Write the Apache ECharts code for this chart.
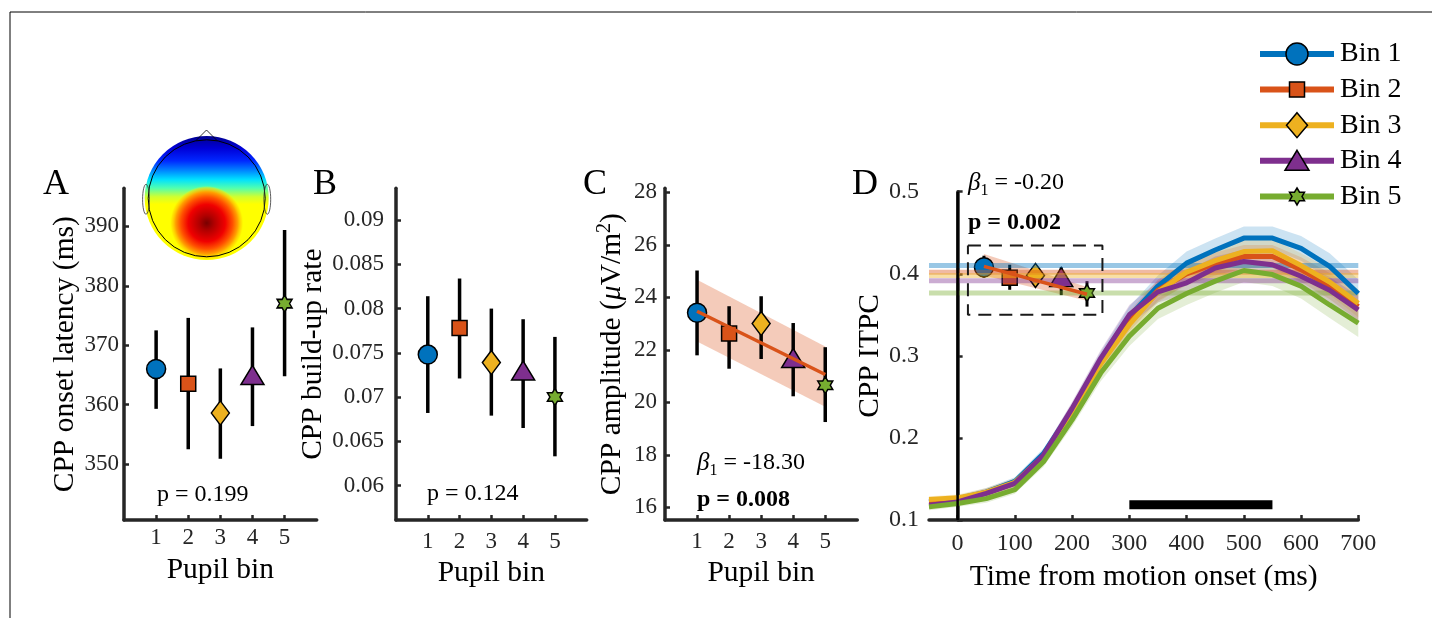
<!DOCTYPE html>
<html><head><meta charset="utf-8">
<script src="https://cdn.jsdelivr.net/npm/echarts@6/dist/echarts.min.js"></script>
<style>html,body{margin:0;padding:0;background:#fff}#c{width:1432px;height:618px}</style>
</head><body><div id="c"></div>
<script>
// ---------------- data ----------------
const bins = [1, 2, 3, 4, 5];
const binNames = ['Bin 1', 'Bin 2', 'Bin 3', 'Bin 4', 'Bin 5'];

// Panel A: CPP onset latency (ms)
const latencyMean = [366.0, 363.5, 358.6, 365.0, 377.0];
const latencyLo   = [359.3, 352.5, 350.9, 356.4, 364.8];
const latencyHi   = [372.5, 374.6, 366.1, 373.0, 389.4];
const latencyTicks = [350, 360, 370, 380, 390];

// Panel B: CPP build-up rate
const rateMean = [0.0748, 0.0778, 0.0739, 0.0730, 0.0700];
const rateLo   = [0.0682, 0.0721, 0.0679, 0.0665, 0.0633];
const rateHi   = [0.0814, 0.0834, 0.0800, 0.0788, 0.0768];
const rateTicks = [0.06, 0.065, 0.07, 0.075, 0.08, 0.085, 0.09];

// Panel C: CPP amplitude
const ampMean = [23.41, 22.62, 23.00, 21.69, 20.65];
const ampLo   = [21.79, 21.28, 21.65, 20.23, 19.25];
const ampHi   = [25.02, 23.66, 24.04, 23.02, 22.10];
const ampTicks = [16, 18, 20, 22, 24, 26, 28];
const ampFitX  = [1, 5];
const ampFitY  = [23.47, 21.06];
const ampFitLo = [22.32, 19.83];
const ampFitHi = [24.67, 22.13];

// Panel D: CPP ITPC time courses
const timeMs = [-50, 0, 50, 100, 150, 200, 250, 300, 350, 400, 450, 500, 550, 600, 650, 700];
const itpcBin1 = [0.122, 0.126, 0.134, 0.147, 0.181, 0.234, 0.295, 0.348, 0.385, 0.413, 0.429, 0.4435, 0.4435, 0.431, 0.409, 0.376];
const itpcBin2 = [0.123, 0.125, 0.133, 0.145, 0.178, 0.232, 0.292, 0.342, 0.380, 0.400, 0.412, 0.421, 0.421, 0.405, 0.385, 0.360];
const itpcBin3 = [0.125, 0.127, 0.134, 0.146, 0.178, 0.230, 0.290, 0.338, 0.378, 0.402, 0.416, 0.427, 0.428, 0.410, 0.390, 0.364];
const itpcBin4 = [0.118, 0.122, 0.1325, 0.1447, 0.179, 0.236, 0.297, 0.350, 0.378, 0.389, 0.407, 0.415, 0.411, 0.397, 0.380, 0.356];
const itpcBin5 = [0.116, 0.120, 0.126, 0.137, 0.171, 0.222, 0.279, 0.324, 0.358, 0.376, 0.391, 0.404, 0.399, 0.385, 0.362, 0.340];
const itpcSem  = [0.004, 0.004, 0.005, 0.005, 0.006, 0.008, 0.010, 0.012, 0.013, 0.014, 0.014, 0.014, 0.014, 0.015, 0.016, 0.017];
const itpcMeanLevel = [0.410, 0.402, 0.398, 0.3915, 0.3765];
const itpcTicksX = [0, 100, 200, 300, 400, 500, 600, 700];
const itpcTicksY = [0.1, 0.2, 0.3, 0.4, 0.5];
// inset inside D (same axes coordinates)
const insetX  = [46, 91, 136, 181, 226];
const insetY  = [0.408, 0.3953, 0.398, 0.396, 0.3765];
const insetLo = [0.395, 0.3805, 0.387, 0.374, 0.360];
const insetHi = [0.422, 0.411, 0.410, 0.408, 0.391];
const insetFitX  = [46, 226];
const insetFitY  = [0.409, 0.375];
const insetFitLo = [0.398, 0.367];
const insetFitHi = [0.424, 0.384];
const insetBoxX = [18, 253];
const insetBoxY = [0.35, 0.4345];
const sigWindow = [300, 550];
const sigLevel = 0.1187;

// ---------------- styles ----------------
const binColors = ['#0072BD', '#D95319', '#EDB120', '#7E2F8E', '#77AC30'];
const HEX = 'path://M50,0L64.4,25L93.3,25L78.9,50L93.3,75L64.4,75L50,100L35.6,75L6.7,75L21.1,50L6.7,25L35.6,25Z';
const SYMBOLS = ['circle', 'rect', 'diamond', 'triangle', HEX];
const SIZES = [19, 15, [18, 24], [23, 19], [15, 17]];
const FONT = 'Liberation Serif';
const AX = '#262626';
const TICKFS = 23;
const NAMEFS = 29.5;

function hexA(h, a) {
  const r = parseInt(h.slice(1, 3), 16), g = parseInt(h.slice(3, 5), 16), b = parseInt(h.slice(5, 7), 16);
  return 'rgba(' + r + ',' + g + ',' + b + ',' + a + ')';
}

function xAxisBins(gi, labelMargin, nameGap) {
  return {
    type: 'value', gridIndex: gi, min: 0, max: 6,
    axisLine: { lineStyle: { color: AX, width: 3.5 } },
    axisTick: { inside: true, length: 5, lineStyle: { color: AX, width: 2.5 }, customValues: bins },
    axisLabel: { customValues: bins, fontFamily: FONT, fontSize: TICKFS, color: AX, margin: labelMargin },
    splitLine: { show: false },
    name: 'Pupil bin', nameLocation: 'middle', nameGap: nameGap,
    nameTextStyle: { fontFamily: FONT, fontSize: NAMEFS, color: '#000' }
  };
}
function yAxisVal(gi, min, max, ticks, labelMargin, name, nameGap, fmt, rich) {
  return {
    type: 'value', gridIndex: gi, min: min, max: max,
    axisLine: { show: true, lineStyle: { color: AX, width: 3.5 } },
    axisTick: { show: true, inside: true, length: 5, lineStyle: { color: AX, width: 2.5 }, customValues: ticks },
    axisLabel: { customValues: ticks, fontFamily: FONT, fontSize: TICKFS, color: AX, margin: labelMargin, formatter: fmt },
    splitLine: { show: false },
    name: name, nameLocation: 'middle', nameGap: nameGap, nameRotate: 90,
    nameTextStyle: Object.assign({ fontFamily: FONT, fontSize: NAMEFS, color: '#000' }, rich ? { rich: rich, lineHeight: 35 } : {})
  };
}

function errSeries(gi, xs, lo, hi, w) {
  return {
    type: 'custom', xAxisIndex: gi, yAxisIndex: gi, silent: true,
    data: xs.map((x, i) => [x, lo[i], hi[i]]),
    encode: { x: 0, y: [1, 2] },
    renderItem: (p, api) => {
      const a = api.coord([api.value(0), api.value(1)]);
      const b = api.coord([api.value(0), api.value(2)]);
      return { type: 'line', shape: { x1: a[0], y1: a[1], x2: b[0], y2: b[1] }, style: { stroke: '#000', lineWidth: w } };
    }
  };
}
function markerSeries(gi, xs, ys) {
  return {
    type: 'scatter', xAxisIndex: gi, yAxisIndex: gi, silent: true,
    data: xs.map((x, i) => ({
      value: [x, ys[i]], symbol: SYMBOLS[i], symbolSize: SIZES[i],
      itemStyle: { color: binColors[i], borderColor: '#000', borderWidth: 1.5, opacity: 1 }
    }))
  };
}
function bandSeries(gi, xs, lo, hi, color) {
  return {
    type: 'custom', xAxisIndex: gi, yAxisIndex: gi, silent: true,
    data: xs.map((x, i) => [x, lo[i], hi[i]]),
    encode: { x: 0, y: [1, 2] },
    renderItem: (p, api) => {
      if (p.dataIndex !== 0) return null;
      const top = [], bot = [];
      for (let i = 0; i < xs.length; i++) {
        top.push(api.coord([xs[i], hi[i]]));
        bot.push(api.coord([xs[i], lo[i]]));
      }
      return { type: 'polygon', shape: { points: top.concat(bot.reverse()) }, style: { fill: color } };
    }
  };
}
function lineSeries(gi, xs, ys, color, width, opacity, type) {
  return {
    type: 'line', xAxisIndex: gi, yAxisIndex: gi, silent: true, symbol: 'none', showSymbol: false,
    data: xs.map((x, i) => [x, ys[i]]),
    lineStyle: { color: color, width: width, opacity: opacity, type: type || 'solid' }
  };
}

const itpcAll = [itpcBin1, itpcBin2, itpcBin3, itpcBin4, itpcBin5];

const series = [];
// A
series.push(errSeries(0, bins, latencyLo, latencyHi, 3.5));
series.push(markerSeries(0, bins, latencyMean));
// B
series.push(errSeries(1, bins, rateLo, rateHi, 3.5));
series.push(markerSeries(1, bins, rateMean));
// C
series.push(bandSeries(2, ampFitX, ampFitLo, ampFitHi, 'rgba(217,83,25,0.3)'));
series.push(lineSeries(2, ampFitX, ampFitY, '#D95319', 3.5, 1));
series.push(errSeries(2, bins, ampLo, ampHi, 3.5));
series.push(markerSeries(2, bins, ampMean));
// D
itpcMeanLevel.forEach((v, i) => series.push(lineSeries(3, [timeMs[0], timeMs[timeMs.length - 1]], [v, v], binColors[i], 5, 0.4)));
itpcAll.forEach((arr, i) => series.push(bandSeries(3, timeMs, arr.map((v, k) => v - itpcSem[k]), arr.map((v, k) => v + itpcSem[k]), hexA(binColors[i], 0.2))));
itpcAll.forEach((arr, i) => { const s = lineSeries(3, timeMs, arr, binColors[i], 5, 1); s.name = binNames[i]; series.push(s); });
series.push(lineSeries(3, [0, 0], [0.1, 0.5], '#000', 2.5, 1));
series.push(lineSeries(3, sigWindow, [sigLevel, sigLevel], '#000', 9, 1));
series.push(lineSeries(3, [insetBoxX[0], insetBoxX[1], insetBoxX[1], insetBoxX[0], insetBoxX[0]],
  [insetBoxY[1], insetBoxY[1], insetBoxY[0], insetBoxY[0], insetBoxY[1]], '#1a1a1a', 2, 1, [13, 8]));
series.push(bandSeries(3, insetFitX, insetFitLo, insetFitHi, 'rgba(217,83,25,0.3)'));
series.push(lineSeries(3, insetFitX, insetFitY, '#D95319', 3.5, 1));
series.push(errSeries(3, insetX, insetLo, insetHi, 3));
series.push(markerSeries(3, insetX, insetY));

// ---------------- graphics (texts, legend, topomap) ----------------
const graphics = [];
graphics.push({ type: 'line', shape: { x1: 10, y1: 12, x2: 1432, y2: 12 }, style: { stroke: '#000', lineWidth: 1 } });
graphics.push({ type: 'line', shape: { x1: 10, y1: 12, x2: 10, y2: 618 }, style: { stroke: '#000', lineWidth: 1 } });

function txt(x, y, text, size, extra) {
  return { type: 'text', x: x, y: y, z: 100,
    style: Object.assign({ text: text, fontFamily: FONT, fontSize: size, fill: '#000', align: 'left', verticalAlign: 'middle',
      textAlign: 'left', textVerticalAlign: 'middle' }, extra || {}) };
}
[['A', 43], ['B', 313], ['C', 583], ['D', 852]].forEach(([l, x]) => graphics.push(txt(x, 185, l, 36)));
graphics.push(txt(157, 495, 'p = 0.199', 24));
graphics.push(txt(427, 494, 'p = 0.124', 24));
const betaRich = {
  b: { fontFamily: FONT, fontStyle: 'italic', fontSize: 25, lineHeight: 32, verticalAlign: 'middle' },
  s: { fontFamily: FONT, fontSize: 16, lineHeight: 12, verticalAlign: 'bottom' },
  n: { fontFamily: FONT, fontSize: 24, lineHeight: 32, verticalAlign: 'middle' }
};
graphics.push(txt(697, 463, '{b|β}{s|1}{n| = -18.30}', 24, { rich: betaRich }));
graphics.push(txt(697, 500, 'p = 0.008', 24, { fontWeight: 'bold' }));
graphics.push(txt(968, 183, '{b|β}{s|1}{n| = -0.20}', 24, { rich: betaRich }));
graphics.push(txt(968, 223, 'p = 0.002', 24, { fontWeight: 'bold' }));

// legend
function hexPoints(cx, cy, w, h) {
  const base = [[50,0],[64.4,25],[93.3,25],[78.9,50],[93.3,75],[64.4,75],[50,100],[35.6,75],[6.7,75],[21.1,50],[6.7,25],[35.6,25]];
  return base.map(p => [cx + (p[0] - 50) / 86.6 * w, cy + (p[1] - 50) / 100 * h]);
}
binNames.forEach((n, i) => {
  const cy = 54 + i * 35.6, cx = 1297;
  graphics.push({ type: 'line', z: 100, shape: { x1: 1260, y1: cy, x2: 1334, y2: cy }, style: { stroke: binColors[i], lineWidth: 6 } });
  const ms = { fill: binColors[i], stroke: '#000', lineWidth: 1.5 };
  let m;
  if (i === 0) m = { type: 'circle', shape: { cx: cx, cy: cy, r: 11 } };
  else if (i === 1) m = { type: 'rect', shape: { x: cx - 7.5, y: cy - 7.5, width: 15, height: 15 } };
  else if (i === 2) m = { type: 'polygon', shape: { points: [[cx, cy - 12.5], [cx + 10.5, cy], [cx, cy + 12.5], [cx - 10.5, cy]] } };
  else if (i === 3) m = { type: 'polygon', shape: { points: [[cx, cy - 10.5], [cx + 12, cy + 9.5], [cx - 12, cy + 9.5]] } };
  else m = { type: 'polygon', shape: { points: hexPoints(cx, cy, 15, 17) } };
  m.z = 101; m.style = ms;
  graphics.push(m);
  graphics.push(txt(1340, cy, n, 28));
});

// scalp topography (decorative)
graphics.push({ type: 'circle', z: 50, shape: { cx: 206.7, cy: 198, r: 62 },
  style: { fill: { type: 'linear', x: 0, y: 0, x2: 0, y2: 1, colorStops: [
    { offset: 0, color: '#000090' }, { offset: 0.1, color: '#0000d8' }, { offset: 0.2, color: '#0028ff' },
    { offset: 0.28, color: '#0088ff' }, { offset: 0.35, color: '#00e0ff' }, { offset: 0.42, color: '#50ffb0' },
    { offset: 0.49, color: '#d0ff30' }, { offset: 0.55, color: '#ffff00' }, { offset: 1, color: '#ffff00' }] } } });
graphics.push({ type: 'ellipse', z: 51, shape: { cx: 206.7, cy: 223, rx: 60, ry: 37 },
  style: { fill: { type: 'radial', x: 0.5, y: 0.5, r: 0.5, colorStops: [
    { offset: 0, color: '#780000' }, { offset: 0.2, color: '#b00000' }, { offset: 0.5, color: '#f00000' },
    { offset: 0.7, color: '#ff5000' }, { offset: 0.84, color: '#ffa000' }, { offset: 0.95, color: 'rgba(255,220,0,0.6)' },
    { offset: 1, color: 'rgba(255,255,0,0)' }] } } });
graphics.push({ type: 'circle', z: 52, shape: { cx: 206.7, cy: 198.3, r: 58.5 }, style: { fill: 'none', stroke: '#000', lineWidth: 1 } });
graphics.push({ type: 'polyline', z: 52, shape: { points: [[196, 140.5], [206.5, 130], [217, 140.5]] }, style: { fill: 'none', stroke: '#000', lineWidth: 0.8 } });
graphics.push({ type: 'ellipse', z: 52, shape: { cx: 146, cy: 199.3, rx: 3.4, ry: 15 }, style: { fill: 'none', stroke: '#333', lineWidth: 0.8 } });
graphics.push({ type: 'ellipse', z: 52, shape: { cx: 267.3, cy: 199.3, rx: 3.4, ry: 15 }, style: { fill: 'none', stroke: '#333', lineWidth: 0.8 } });

// ---------------- option ----------------
const option = {
  animation: false,
  backgroundColor: '#fff',
  grid: [
    { left: 124, top: 188.3, width: 192.7, height: 331.7 },
    { left: 396, top: 188.3, width: 190.7, height: 331.7 },
    { left: 665, top: 188.3, width: 192.3, height: 331.7 },
    { left: 929, top: 191.7, width: 429.3, height: 328.3 }
  ],
  xAxis: [
    xAxisBins(0, 6, 35),
    xAxisBins(1, 10, 36),
    xAxisBins(2, 10, 38),
    {
      type: 'value', gridIndex: 3, min: -50, max: 700,
      axisLine: { lineStyle: { color: AX, width: 3.5 } },
      axisTick: { inside: true, length: 5, lineStyle: { color: AX, width: 2.5 }, customValues: itpcTicksX },
      axisLabel: { customValues: itpcTicksX, fontFamily: FONT, fontSize: 24, color: AX, margin: 12 },
      splitLine: { show: false },
      name: 'Time from motion onset (ms)', nameLocation: 'middle', nameGap: 42,
      nameTextStyle: { fontFamily: FONT, fontSize: NAMEFS, color: '#000' }
    }
  ],
  yAxis: [
    yAxisVal(0, 340.6, 396.4, latencyTicks, 5, 'CPP onset latency (ms)', 35),
    yAxisVal(1, 0.0561, 0.0936, rateTicks, 12, 'CPP build-up rate', 52),
    yAxisVal(2, 15.52, 28.15, ampTicks, 8, 'CPP amplitude ({i|μ}V/m{sup|2})', 35, null, {
      i: { fontFamily: FONT, fontStyle: 'italic', fontSize: NAMEFS, lineHeight: 35, verticalAlign: 'middle' },
      sup: { fontFamily: FONT, fontSize: 20, lineHeight: 12, verticalAlign: 'top' }
    }),
    yAxisVal(3, 0.1, 0.5, itpcTicksY, 10, 'CPP ITPC', 39, v => v.toFixed(1))
  ],
  series: series,
  graphic: { elements: graphics }
};
option.yAxis[3].axisLabel.fontSize = 24;

const chart = echarts.init(document.getElementById('c'), null, { renderer: 'canvas' });
chart.setOption(option);
</script>
</body></html>
